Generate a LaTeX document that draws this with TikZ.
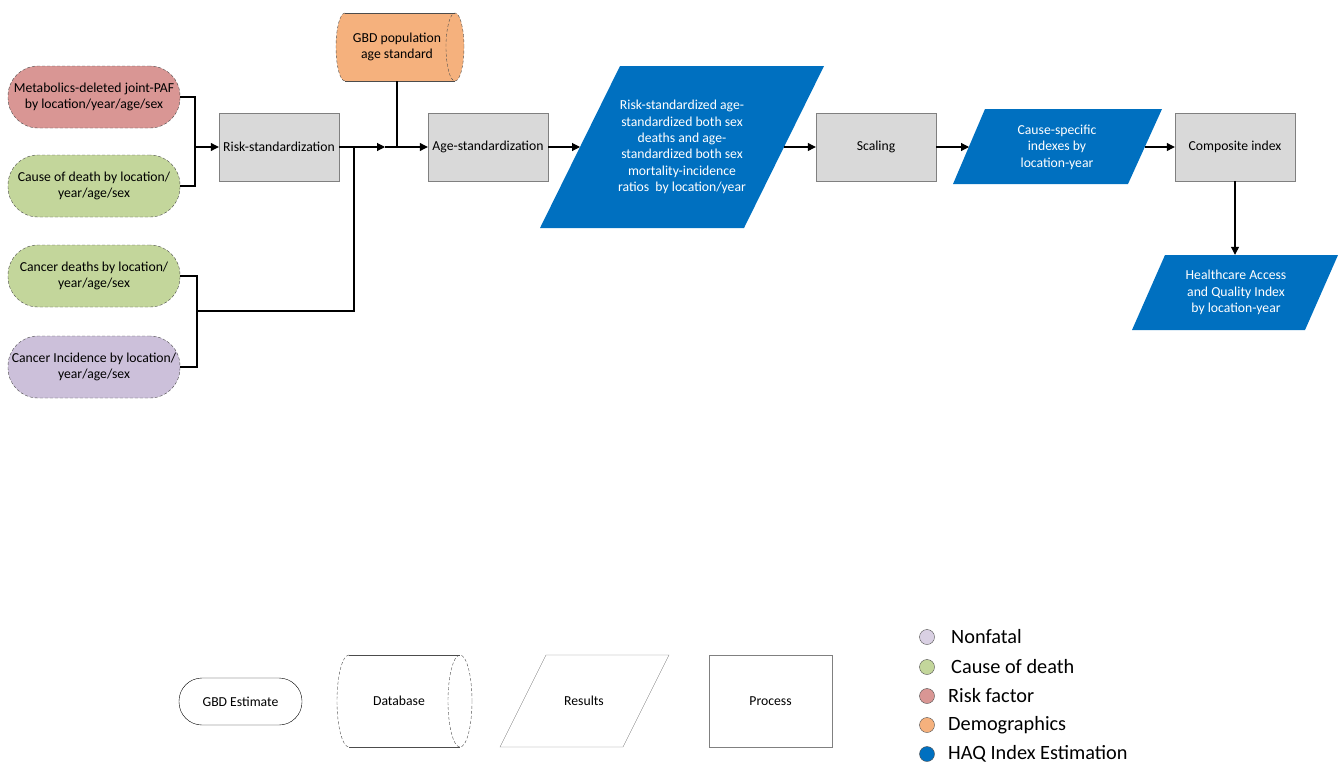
\documentclass[tikz,border=0pt]{standalone}
\usepackage{fontspec}
\setmainfont{Carlito}
\usetikzlibrary{arrows.meta}

\definecolor{riskred}{RGB}{217,150,148}
\definecolor{codgreen}{RGB}{195,214,155}
\definecolor{nfpurple}{RGB}{204,192,218}
\definecolor{demorange}{RGB}{245,177,125}
\definecolor{haqblue}{RGB}{0,112,192}
\definecolor{procgray}{RGB}{217,217,217}
\definecolor{edgegray}{RGB}{128,128,128}

% horizontal drum (database) outline: left x, right x, top y, bottom y, end radius, fill
\newcommand\drumshape[6]{%
  \pgfmathsetmacro\drumry{(#4-#3)/2}%
  \pgfmathsetmacro\drummid{(#4+#3)/2}%
  \fill[#6] (#1,#3) -- (#2,#3) arc[start angle=90,end angle=-90,x radius=#5pt,y radius=\drumry pt]
     -- (#1,#4) arc[start angle=270,end angle=90,x radius=#5pt,y radius=\drumry pt] -- cycle;
  \draw[drumline] (#1,#3) -- (#2,#3) (#1,#4) -- (#2,#4);
  \draw[drumline,densely dashed] (#1,#3) arc[start angle=90,end angle=270,x radius=#5pt,y radius=\drumry pt];
  \draw[drumline,densely dashed] (#2,\drummid) ellipse[x radius=#5pt,y radius=\drumry pt];
}

\begin{document}
\begin{tikzpicture}[x=1pt,y=-1pt,
  font=\fontsize{13.7}{16.4}\selectfont,
  estimate/.style={rectangle, rounded corners=30pt, draw=black!70, densely dashed, thin,
     minimum width=172pt, minimum height=62pt, inner sep=0pt, align=center},
  procbox/.style={rectangle, fill=procgray, draw=edgegray, thin,
     minimum width=120pt, minimum height=68pt, inner sep=1pt, align=center},
  restext/.style={text=white, align=center, inner sep=0pt},
  drumline/.style={draw=black!70, thin},
  conn/.style={line width=1.1pt, black},
  arr/.style={conn, -{Triangle[length=8pt,width=8pt]}},
  lgdot/.style={circle, draw=black!70, thin, minimum size=15pt, inner sep=0pt},
  lgtext/.style={anchor=west, inner sep=0pt, font=\fontsize{20.3}{24}\selectfont}
]
\useasboundingbox (0,0) rectangle (1338,766);

% input estimates
\node[estimate, fill=riskred]  (met) at (94,97)  {Metabolics-deleted joint-PAF\\by location/year/age/sex};
\node[estimate, fill=codgreen] (cod) at (94,186) {Cause of death by location/\\year/age/sex};
\node[estimate, fill=codgreen] (cd)  at (94,276) {Cancer deaths by location/\\year/age/sex};
\node[estimate, fill=nfpurple] (ci)  at (94,367) {Cancer Incidence by location/\\year/age/sex};

% demographics database
\drumshape{345}{455}{13}{81}{9}{demorange}
\node[minimum width=110pt, minimum height=68pt, inner sep=0pt, align=center] (gbd) at (397,47) {GBD population\\age standard};

% processes
\node[procbox] (rs)   at (279,147)  {Risk-standardization};
\node[procbox] (as)   at (488,147)  {Age-standardization};
\node[procbox] (sc)   at (876,147)  {Scaling};
\node[procbox] (comp) at (1235,147) {Composite index};

% results
\fill[haqblue] (540,228) -- (620,66) -- (824,66) -- (744,228) -- cycle;
\node[restext, minimum height=162pt] (res1) at (682,147)
  {Risk-standardized age-\\standardized both sex\\deaths and age-\\standardized both sex\\mortality-incidence\\ratios~ by location/year};
\coordinate (res1in)  at (580,147);
\coordinate (res1out) at (784,147);

\fill[haqblue] (953,184) -- (985,109) -- (1162,109) -- (1128,184) -- cycle;
\node[restext, minimum height=75pt] (res2) at (1057,147) {Cause-specific\\indexes by\\location-year};
\coordinate (res2in)  at (969,147);
\coordinate (res2out) at (1145,147);

\fill[haqblue] (1132,330) -- (1165,255) -- (1338,255) -- (1305,330) -- cycle;
\node[restext, minimum height=75pt] (haq) at (1236,292.5) {Healthcare Access\\and Quality Index\\by location-year};

% connectors
\coordinate (j1) at (195,147);
\coordinate (j2) at (354,147);
\coordinate (j3) at (385,147);
\coordinate (j5) at (197,311);
\draw[conn] (met.east) -| (j1) |- (cod.east);
\draw[arr] (j1) -- (rs.west);
\draw[conn] (cd.east) -| (j5) |- (ci.east);
\draw[conn] (j5) -| (j2);
\draw[arr] (rs.east) -- (j3);
\draw[arr] (j3) -- (as.west);
\draw[conn] (gbd.south) -- (gbd.south |- as.west);
\draw[arr] (as.east) -- (res1in);
\draw[arr] (res1out) -- (sc.west);
\draw[arr] (sc.east) -- (res2in);
\draw[arr] (res2out) -- (comp.west);
\draw[arr] (comp.south) -- (comp.south |- haq.north);

% shape legend
\node[rectangle, rounded corners=23pt, draw=black, thin, fill=white,
      minimum width=123pt, minimum height=47pt, inner sep=0pt] (lgest) at (240.5,701.5) {GBD Estimate};
\drumshape{349}{460}{655}{747}{12}{white}
\node[minimum width=110pt, minimum height=92pt, inner sep=0pt] (lgdb) at (399,701) {Database};
\draw[draw=edgegray, thin] (500,747) -- (546,655) -- (669,655) -- (623,747) -- cycle;
\node (lgres) at (584,701) {Results};
\node[rectangle, draw=edgegray, thin, minimum width=123pt, minimum height=92pt] (lgproc) at (770.5,701) {Process};

% colour legend
\node[lgdot, fill=nfpurple!75] (dnf)  at (927,637) {};
\node[lgdot, fill=codgreen]    (dcod) at (927,667) {};
\node[lgdot, fill=riskred]     (drf)  at (927,696) {};
\node[lgdot, fill=demorange]   (ddem) at (927,725) {};
\node[lgdot, fill=haqblue]     (dhaq) at (927,754) {};
\node[lgtext] (tnf)  at (951,637) {Nonfatal};
\node[lgtext] (tcod) at (951,667) {Cause of death};
\node[lgtext] (trf)  at (948,696) {Risk factor};
\node[lgtext] (tdem) at (948,725) {Demographics};
\node[lgtext] (thaq) at (948,754) {HAQ Index Estimation};
\end{tikzpicture}
\end{document}
